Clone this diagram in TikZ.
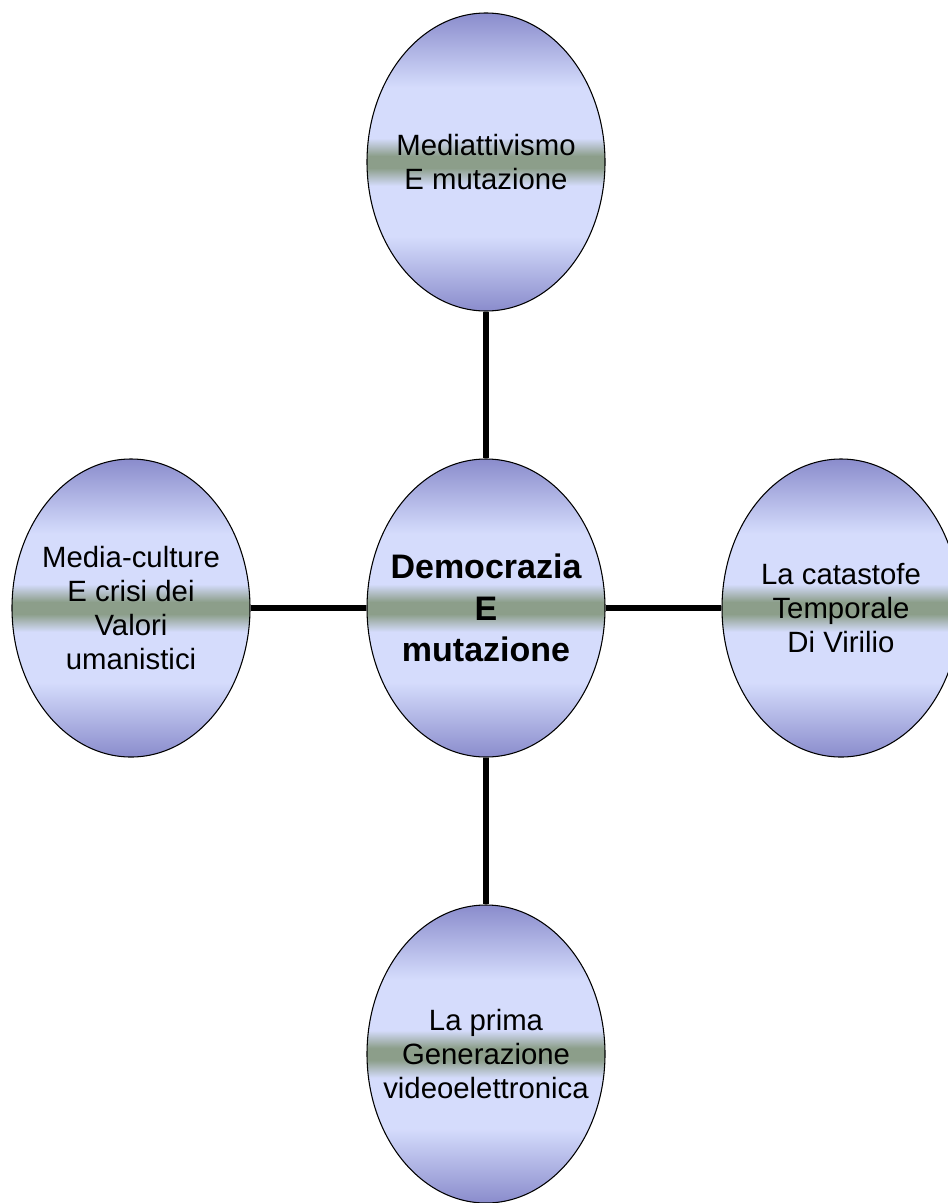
\documentclass[tikz,border=0pt]{standalone}
\usepackage{fontspec}
\setmainfont{Liberation Sans}
\usepackage{xcolor}
\usetikzlibrary{shapes,positioning}

\definecolor{bubdark}{HTML}{8A8CCC}
\definecolor{bublight}{HTML}{D5DCFC}
\definecolor{bubgreen}{HTML}{8C9E8A}
\pgfdeclareverticalshading{bubbleshade}{100bp}{color(0bp)=(bubdark); color(25bp)=(bubdark); color(37.5bp)=(bublight); color(46bp)=(bublight); color(49bp)=(bubgreen); color(51bp)=(bubgreen); color(54bp)=(bublight); color(62.5bp)=(bublight); color(75bp)=(bubdark); color(100bp)=(bubdark)}

\tikzset{
	bubble/.style={ellipse, draw=black, line width=0.8pt, shading=bubbleshade,
		minimum width=178.5pt, minimum height=223.5pt, inner sep=0pt},
	lbl/.style={align=center, inner sep=0pt, font=\fontsize{22}{25.5}\selectfont},
	mainlbl/.style={align=center, inner sep=0pt, font=\fontsize{25.5}{31}\selectfont\bfseries},
	link/.style={line width=4.5pt, black}
}

\begin{document}
\begin{tikzpicture}[x=0.75pt, y=-0.75pt]
			\useasboundingbox (0,0) rectangle (947,1203);
			\node [bubble, label={[mainlbl]center:{Democrazia\\E\\mutazione}}] (demo) at (486,608) {};
			\node [bubble, label={[lbl]center:{Mediattivismo\\E mutazione}}] (media) at (486,162) {};
			\node [bubble, label={[lbl]center:{Media-culture\\E crisi dei\\Valori\\umanistici}}] (cult) at (131,608) {};
			\node [bubble, label={[lbl]center:{La catastofe\\Temporale\\Di Virilio}}] (viril) at (841,608) {};
			\node [bubble, label={[lbl]center:{La prima\\Generazione\\videoelettronica}}] (gener) at (486,1054) {};
			\draw [link] (media.south) -- (demo.north);
			\draw [link] (demo.south) -- (gener.north);
			\draw [link] (cult.east) -- (demo.west);
			\draw [link] (demo.east) -- (viril.west);
\end{tikzpicture}
\end{document}
